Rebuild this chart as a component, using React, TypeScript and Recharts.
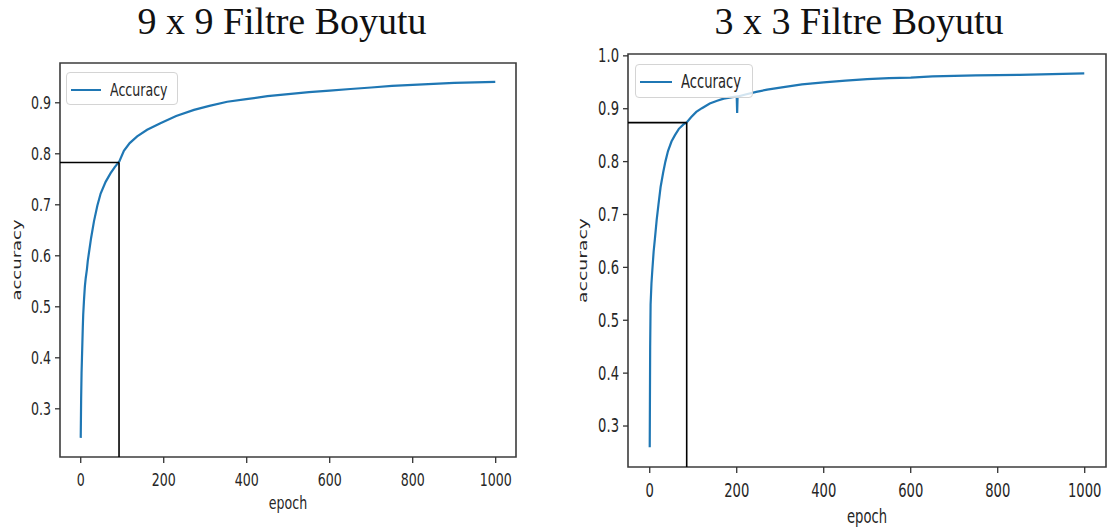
import React from 'react'
import { LineChart, Line, XAxis, YAxis, ReferenceLine, ReferenceArea, Legend, Label } from 'recharts'

// 9 x 9 filter run
const epochs9 = [0, 1, 2, 3, 4, 5, 6, 8, 10, 12, 15, 17, 20, 25, 32, 40, 48, 60, 72, 82, 93, 104, 118, 136, 160, 192, 230, 273, 310, 353, 399, 450, 500, 550, 600, 650, 700, 750, 800, 850, 900, 950, 999]
const accuracy9 = [0.243, 0.32, 0.37, 0.4, 0.43, 0.46, 0.485, 0.515, 0.54, 0.556, 0.574, 0.59, 0.607, 0.635, 0.668, 0.698, 0.722, 0.745, 0.762, 0.774, 0.785, 0.806, 0.821, 0.834, 0.847, 0.86, 0.874, 0.886, 0.894, 0.902, 0.907, 0.913, 0.917, 0.921, 0.924, 0.927, 0.93, 0.933, 0.935, 0.937, 0.939, 0.94, 0.941]
const marker9 = { epoch: 92.3, accuracy: 0.783 }

// 3 x 3 filter run
const epochs3 = [0, 1, 2, 4, 6, 9, 12, 16, 20, 25, 31, 36, 42, 50, 58, 67, 77, 85, 95, 107, 120, 138, 155, 170, 190, 200, 201, 202, 220, 245, 270, 300, 350, 400, 450, 500, 550, 600, 650, 700, 750, 800, 850, 900, 950, 999]
const accuracy3 = [0.26, 0.45, 0.53, 0.57, 0.595, 0.63, 0.655, 0.69, 0.718, 0.752, 0.78, 0.8, 0.82, 0.838, 0.85, 0.862, 0.87, 0.874, 0.884, 0.894, 0.901, 0.91, 0.915, 0.919, 0.922, 0.923, 0.892, 0.923, 0.927, 0.932, 0.936, 0.94, 0.946, 0.95, 0.953, 0.956, 0.958, 0.959, 0.961, 0.962, 0.963, 0.9635, 0.964, 0.965, 0.966, 0.967]
const marker3 = { epoch: 85, accuracy: 0.8738 }

const epochTicks = [0, 200, 400, 600, 800, 1000]
const accTicks9 = [0.3, 0.4, 0.5, 0.6, 0.7, 0.8, 0.9]
const accTicks3 = [0.3, 0.4, 0.5, 0.6, 0.7, 0.8, 0.9, 1.0]

const X_DOMAIN: [number, number] = [-49.95, 1048.95]
const FONT = 'DejaVu Sans, sans-serif'
const SQUEEZE = 0.7
const BLUE = '#1f77b4'
const INK = '#262626'

const YTick = ({ x, y, payload, size }: any) => (
  <g transform={`translate(${x},${y})`}>
    <text transform={`scale(${SQUEEZE},1)`} textAnchor="end" dominantBaseline="central" fontSize={size} fontFamily={FONT} fill={INK}>
      {Number(payload.value).toFixed(1)}
    </text>
  </g>
)

const XTick = ({ x, y, payload, size, dy }: any) => (
  <g transform={`translate(${x},${y + dy})`}>
    <text transform={`scale(${SQUEEZE},1)`} textAnchor="middle" dominantBaseline="central" fontSize={size} fontFamily={FONT} fill={INK}>
      {payload.value}
    </text>
  </g>
)

const YTitle = ({ viewBox, cx, size }: any) => (
  <text
    transform={`translate(${viewBox.x + cx},${viewBox.y + viewBox.height / 2}) scale(${SQUEEZE},1) rotate(-90)`}
    textAnchor="middle"
    dominantBaseline="central"
    fontSize={size}
    fontFamily={FONT}
    fill={INK}
  >
    accuracy
  </text>
)

const XTitle = ({ viewBox, dy, size }: any) => (
  <text
    transform={`translate(${viewBox.x + viewBox.width / 2},${viewBox.y + dy}) scale(${SQUEEZE},1)`}
    textAnchor="middle"
    dominantBaseline="central"
    fontSize={size}
    fontFamily={FONT}
    fill={INK}
  >
    epoch
  </text>
)

const LegendBox = ({ w, h, size }: any) => (
  <div
    style={{
      position: 'relative',
      width: w,
      height: h,
      boxSizing: 'border-box',
      border: '1px solid #d4d4d4',
      borderRadius: 4,
      background: 'rgba(255,255,255,0.8)',
    }}
  >
    <div style={{ position: 'absolute', left: 4, top: h / 2 - 1, width: w * 0.27, height: 2, background: BLUE }} />
    <div
      style={{
        position: 'absolute',
        left: w * 0.38,
        top: 0,
        height: h,
        lineHeight: `${h}px`,
        fontFamily: FONT,
        fontSize: size,
        color: INK,
        transform: `scaleX(${SQUEEZE})`,
        transformOrigin: 'left center',
        whiteSpace: 'nowrap',
      }}
    >
      Accuracy
    </div>
  </div>
)

interface PanelProps {
  epochs: number[]
  accuracy: number[]
  marker: { epoch: number; accuracy: number }
  yDomain: [number, number]
  yTicks: number[]
  width: number
  margin: { top: number; right: number; bottom: number; left: number }
  yAxisWidth: number
  xAxisHeight: number
  fontSize: number
  xTickDy: number
  xTitleDy: number
  yTitleX: number
  legend: { left: number; top: number; w: number; h: number }
}

function Panel(p: PanelProps) {
  const data = p.epochs.map((e, i) => ({ epoch: e, acc: p.accuracy[i] }))
  return (
    <LineChart width={p.width} height={532} data={data} margin={p.margin}>
      <XAxis
        dataKey="epoch"
        type="number"
        domain={X_DOMAIN}
        ticks={epochTicks}
        allowDataOverflow
        axisLine={false}
        tickLine={{ stroke: '#333', strokeWidth: 1.3 }}
        tickSize={6}
        height={p.xAxisHeight}
        tick={<XTick size={p.fontSize} dy={p.xTickDy} />}
        interval={0}
      >
        <Label content={(lp: any) => <XTitle {...lp} dy={p.xTitleDy} size={p.fontSize} />} />
      </XAxis>
      <YAxis
        type="number"
        domain={p.yDomain}
        ticks={p.yTicks}
        allowDataOverflow
        axisLine={false}
        tickLine={{ stroke: '#333', strokeWidth: 1.3 }}
        tickSize={5}
        tickMargin={4}
        width={p.yAxisWidth}
        tick={<YTick size={p.fontSize} />}
        interval={0}
      >
        <Label content={(lp: any) => <YTitle {...lp} cx={p.yTitleX} size={p.fontSize} />} />
      </YAxis>
      <Line type="linear" dataKey="acc" stroke={BLUE} strokeWidth={2.2} dot={false} isAnimationActive={false} />
      <ReferenceLine
        segment={[{ x: X_DOMAIN[0], y: p.marker.accuracy }, { x: p.marker.epoch, y: p.marker.accuracy }]}
        stroke="#000"
        strokeWidth={1.6}
        ifOverflow="visible"
      />
      <ReferenceLine
        segment={[{ x: p.marker.epoch, y: p.yDomain[0] }, { x: p.marker.epoch, y: p.marker.accuracy }]}
        stroke="#000"
        strokeWidth={1.6}
        ifOverflow="visible"
      />
      <ReferenceArea
        x1={X_DOMAIN[0]}
        x2={X_DOMAIN[1]}
        y1={p.yDomain[0]}
        y2={p.yDomain[1]}
        fill="none"
        stroke="#3c3c3c"
        strokeWidth={1.6}
        ifOverflow="visible"
      />
      <Legend
        layout="vertical"
        align="center"
        verticalAlign="middle"
        wrapperStyle={{ left: p.legend.left, top: p.legend.top, width: 'auto', height: 'auto' }}
        content={() => <LegendBox w={p.legend.w} h={p.legend.h} size={p.fontSize} />}
      />
    </LineChart>
  )
}

const titleStyle: React.CSSProperties = { fontFamily: '"Liberation Serif", "Times New Roman", serif', fontSize: 38, fill: '#111' }

export default function App() {
  return (
    <div style={{ position: 'absolute', left: 0, top: 0, width: 1107, height: 532, background: '#fff', overflow: 'hidden' }}>
      <svg width={1107} height={50} style={{ position: 'absolute', left: 0, top: 0 }}>
        <text x={282} y={34} textAnchor="middle" style={titleStyle}>9 x 9 Filtre Boyutu</text>
        <text x={859} y={34} textAnchor="middle" style={titleStyle}>3 x 3 Filtre Boyutu</text>
      </svg>
      <div style={{ position: 'absolute', left: 0, top: 0 }}>
        <Panel
          epochs={epochs9}
          accuracy={accuracy9}
          marker={marker9}
          yDomain={[0.2055, 0.978]}
          yTicks={accTicks9}
          width={540}
          margin={{ top: 63, right: 24, bottom: 15, left: 0 }}
          yAxisWidth={60}
          xAxisHeight={60}
          fontSize={18}
          xTickDy={15}
          xTitleDy={46}
          yTitleX={17}
          legend={{ left: 66, top: 72, w: 112, h: 33 }}
        />
      </div>
      <div style={{ position: 'absolute', left: 560, top: 0 }}>
        <Panel
          epochs={epochs3}
          accuracy={accuracy3}
          marker={marker3}
          yDomain={[0.2225, 1.0035]}
          yTicks={accTicks3}
          width={547}
          margin={{ top: 54, right: 1, bottom: 15, left: 0 }}
          yAxisWidth={68}
          xAxisHeight={50}
          fontSize={18.8}
          xTickDy={16}
          xTitleDy={50}
          yTitleX={23}
          legend={{ left: 75, top: 64, w: 118, h: 34 }}
        />
      </div>
    </div>
  )
}
